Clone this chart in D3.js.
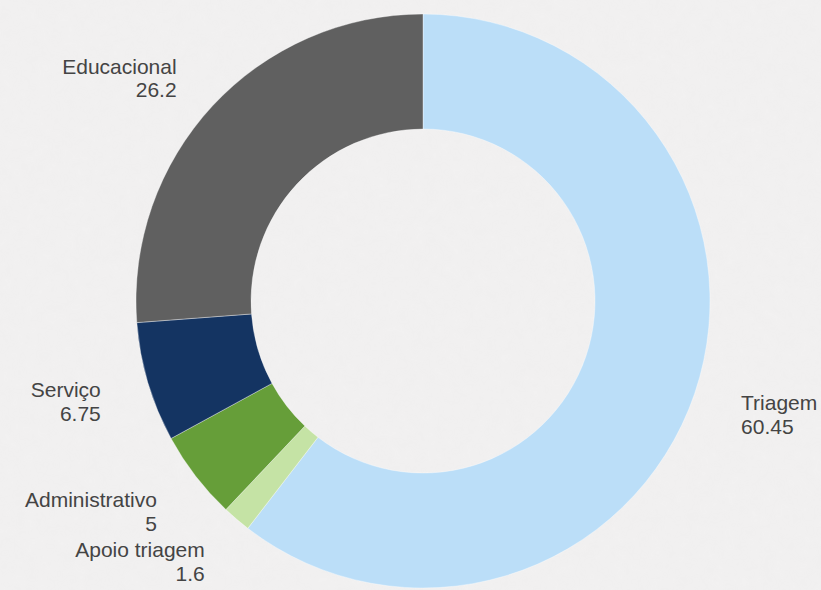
<!DOCTYPE html>
<html>
<head>
<meta charset="utf-8">
<script src="https://cdn.jsdelivr.net/npm/d3@7"></script>
<style>
  html, body { margin: 0; padding: 0; background: #efefef; }
  svg { display: block; }
</style>
</head>
<body>
<svg id="chart" width="821" height="590"></svg>
<script>
const categories = ["Triagem", "Apoio triagem", "Administrativo", "Serviço", "Educacional"];
const values = [60.45, 1.6, 5, 6.75, 26.2];
const valueLabels = ["60.45", "1.6", "5", "6.75", "26.2"];
const colors = ["#bbdef8", "#c5e3a5", "#669e39", "#143462", "#606060"];

const W = 821, H = 590;
const cx = 423, cy = 301;
const outerR = 287, innerR = 172, labelR = 336;

const svg = d3.select("#chart");

// textured background
const defs = svg.append("defs");
const f = defs.append("filter").attr("id", "noise").attr("x", 0).attr("y", 0).attr("width", "100%").attr("height", "100%");
f.append("feTurbulence").attr("type", "fractalNoise").attr("baseFrequency", 0.08).attr("numOctaves", 2).attr("seed", 3).attr("result", "t");
f.append("feColorMatrix").attr("type", "matrix")
  .attr("values", "0 0 0 0 0.55  0 0 0 0 0.55  0 0 0 0 0.55  0 0 0 0.08 0");
svg.append("rect").attr("width", W).attr("height", H).attr("fill", "#f2f1f1");
svg.append("rect").attr("width", W).attr("height", H).attr("filter", "url(#noise)").attr("opacity", 0.6);

const data = categories.map((c, i) => ({ name: c, value: values[i], label: valueLabels[i], color: colors[i] }));

const pie = d3.pie().value(d => d.value).sort(null).startAngle(0).endAngle(2 * Math.PI);
const arcs = pie(data);
const arc = d3.arc().innerRadius(innerR).outerRadius(outerR);
const labelArc = d3.arc().innerRadius(labelR).outerRadius(labelR);

const g = svg.append("g").attr("transform", `translate(${cx},${cy})`);

g.selectAll("path.slice").data(arcs).join("path")
  .attr("class", "slice")
  .attr("d", arc)
  .attr("fill", d => d.data.color)
  .attr("stroke", "rgba(255,255,255,0.45)")
  .attr("stroke-width", 0.8);

const lab = g.selectAll("text.lbl").data(arcs).join("text")
  .attr("class", "lbl")
  .attr("font-family", "Liberation Sans, Arial, Helvetica, sans-serif")
  .attr("font-size", 21)
  .attr("fill", "#444444")
  .attr("text-anchor", d => ((d.startAngle + d.endAngle) / 2 < Math.PI ? "start" : "end"))
  .attr("transform", d => {
    const [x, y] = labelArc.centroid(d);
    return `translate(${x},${y + 1})`;
  });
lab.append("tspan").attr("x", 0).attr("dy", 0).text(d => d.data.name);
lab.append("tspan").attr("x", 0).attr("dy", 23.5).text(d => d.data.label);
</script>
</body>
</html>
